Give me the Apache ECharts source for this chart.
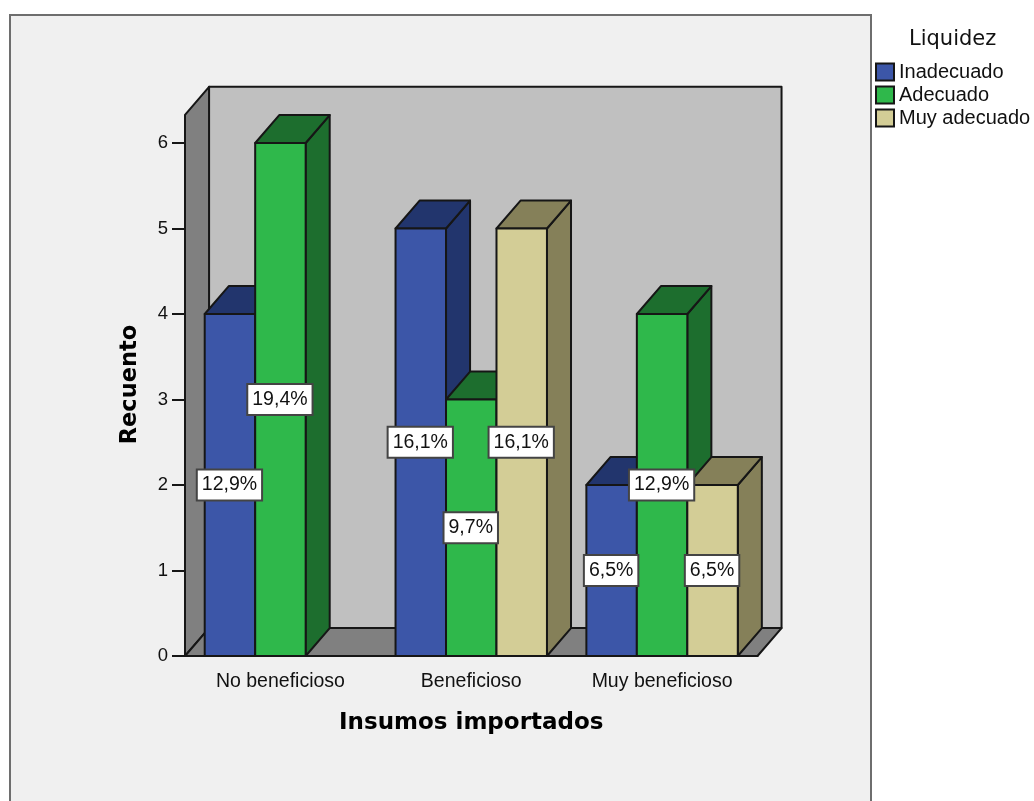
<!DOCTYPE html>
<html>
<head>
<meta charset="utf-8">
<style>html,body{margin:0;padding:0;background:#fff}#c{width:1034px;height:801px}</style>
<script src="https://cdn.jsdelivr.net/npm/echarts@6/dist/echarts.min.js"></script>
</head>
<body>
<div id="c"></div>
<script>
const categories = ['No beneficioso', 'Beneficioso', 'Muy beneficioso'];
const inadecuado = [4, 5, 2];
const adecuado = [6, 3, 4];
const muyAdecuado = [null, 5, 2];
const inadecuadoPct = ['12,9%', '16,1%', '6,5%'];
const adecuadoPct = ['19,4%', '9,7%', '12,9%'];
const muyAdecuadoPct = [null, '16,1%', '6,5%'];
const yTicks = [0, 1, 2, 3, 4, 5, 6];
const wallTop = 6.33;

const line = '#161616';
const barFrac = 0.2645, depthXFrac = 0.126, depthYFrac = 0.327;
const FONT = '"Liberation Sans", Arial, sans-serif';

function poly(points, fill) {
  return { type: 'polygon', shape: { points }, style: { fill, stroke: line, lineWidth: 2, lineJoin: 'round' } };
}
function depth(api) {
  return [api.size([1, 0])[0] * depthXFrac, api.size([0, 1])[1] * depthYFrac];
}
function barRenderer(slot, front, dark, pct) {
  return function (params, api) {
    const cat = api.value(0), val = api.value(1);
    const band = api.size([1, 0])[0], w = band * barFrac;
    const [dx, dy] = depth(api);
    const top = api.coord([cat, val]), base = api.coord([cat, 0]);
    const x0 = top[0] + (slot - 1.5) * w, x1 = x0 + w;
    const yT = top[1], yB = base[1];
    const mid = api.coord([cat, val / 2]);
    return {
      type: 'group',
      children: [
        poly([[x1, yT], [x1 + dx, yT - dy], [x1 + dx, yB - dy], [x1, yB]], dark),
        poly([[x0, yT], [x0 + dx, yT - dy], [x1 + dx, yT - dy], [x1, yT]], dark),
        poly([[x0, yT], [x1, yT], [x1, yB], [x0, yB]], front),
        {
          type: 'text', z2: 100, x: (x0 + x1) / 2 - 0.5, y: mid[1],
          style: {
            text: pct[api.value(2)], align: 'center', verticalAlign: 'middle',
            font: '19.5px ' + FONT, fill: '#111', backgroundColor: '#fff',
            borderColor: '#444', borderWidth: 2, padding: [5, 4, 4, 4]
          }
        }
      ]
    };
  };
}
function wallRenderer(params, api) {
  const band = api.size([1, 0])[0];
  const [dx, dy] = depth(api);
  const n = categories.length;
  const L = api.coord([0, 0])[0] - band / 2, R = L + band * n;
  const yB = api.coord([0, 0])[1], yT = api.coord([0, wallTop])[1];
  return {
    type: 'group',
    children: [
      poly([[L + dx, yT - dy], [R + dx, yT - dy], [R + dx, yB - dy], [L + dx, yB - dy]], '#c0c0c0'),
      poly([[L, yT], [L + dx, yT - dy], [L + dx, yB - dy], [L, yB]], '#808080'),
      poly([[L, yB], [L + dx, yB - dy], [R + dx, yB - dy], [R, yB]], '#808080')
    ]
  };
}
function rows(values) {
  return values.map((v, i) => v === null ? null : [i, v, i]).filter(Boolean);
}
function barSeries(name, values, pct, slot, front, dark) {
  return {
    name, type: 'custom', data: rows(values), encode: { x: 0, y: 1 },
    renderItem: barRenderer(slot, front, dark, pct),
    itemStyle: { color: front, borderColor: line, borderWidth: 2 },
    animation: false, silent: true
  };
}

const chart = echarts.init(document.getElementById('c'), null, { renderer: 'canvas' });
chart.setOption({
  animation: false,
  backgroundColor: '#fff',
  graphic: [{
    type: 'rect', z: -10, silent: true,
    shape: { x: 10, y: 15, width: 861, height: 800 },
    style: { fill: '#f0f0f0', stroke: '#6e6e6e', lineWidth: 2 }
  }],
  title: {
    text: 'Liquidez', left: 909, top: 29, padding: 0,
    textStyle: { fontFamily: '"DejaVu Sans", sans-serif', fontWeight: 'normal', fontSize: 21, color: '#111' }
  },
  legend: {
    orient: 'vertical', left: 875, top: 62, padding: 0, itemWidth: 18, itemHeight: 17, itemGap: 3,
    icon: 'rect',
    data: ['Inadecuado', 'Adecuado', 'Muy adecuado'],
    textStyle: { fontFamily: FONT, fontSize: 20, lineHeight: 18, color: '#111' },
    selectedMode: false
  },
  grid: { left: 185, top: 143, width: 572.5, height: 513, containLabel: false },
  xAxis: {
    type: 'category', data: categories,
    name: 'Insumos importados', nameLocation: 'middle', nameGap: 56,
    nameTextStyle: { fontFamily: '"DejaVu Sans", sans-serif', fontWeight: 'bold', fontSize: 23, color: '#000' },
    axisLine: { lineStyle: { color: line, width: 2 } },
    axisTick: { alignWithLabel: true, length: 12, lineStyle: { color: line, width: 2 } },
    axisLabel: { fontFamily: FONT, fontSize: 19.5, color: '#111', margin: 16 }
  },
  yAxis: {
    type: 'value', min: yTicks[0], max: yTicks[yTicks.length - 1], interval: 1,
    name: 'Recuento', nameLocation: 'middle', nameGap: 43, nameRotate: 90,
    nameTextStyle: { fontFamily: '"DejaVu Sans", sans-serif', fontWeight: 'bold', fontSize: 22.5, color: '#000', padding: [0, 0, 0, 30] },
    splitLine: { show: false },
    axisLine: { show: true, lineStyle: { color: line, width: 2 } },
    axisTick: { show: true, length: 13, lineStyle: { color: line, width: 2 } },
    axisLabel: { fontFamily: FONT, fontSize: 18.5, color: '#111', margin: 17 }
  },
  series: [
    { name: 'walls', type: 'custom', data: [[0, 0]], encode: { x: 0, y: 1 }, renderItem: wallRenderer, silent: true, z: 1 },
    barSeries('Inadecuado', inadecuado, inadecuadoPct, 0, '#3c56a8', '#22356d'),
    barSeries('Adecuado', adecuado, adecuadoPct, 1, '#2fb84b', '#1d6e2e'),
    barSeries('Muy adecuado', muyAdecuado, muyAdecuadoPct, 2, '#d3cd96', '#858059')
  ]
});
</script>
</body>
</html>
